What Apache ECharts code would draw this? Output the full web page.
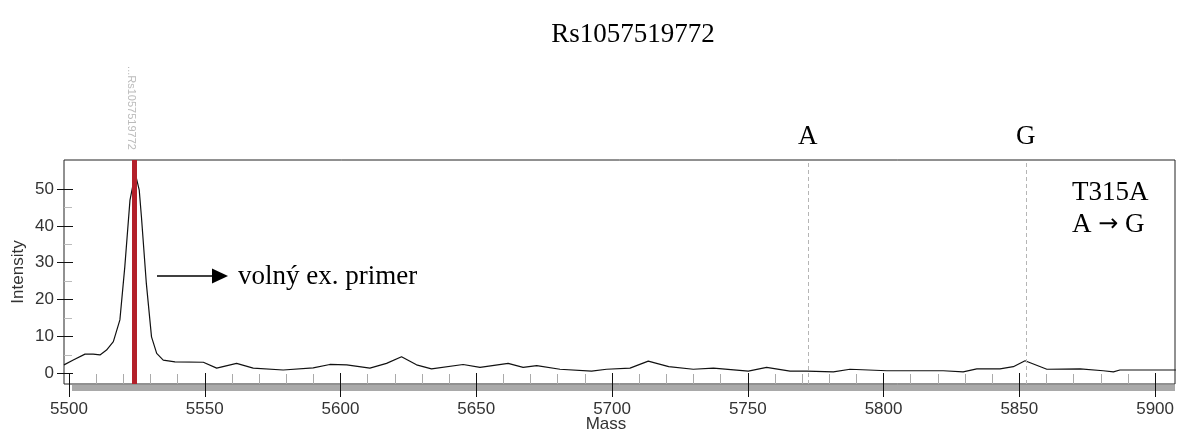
<!DOCTYPE html>
<html>
<head>
<meta charset="utf-8">
<script src="https://cdn.jsdelivr.net/npm/echarts@6/dist/echarts.min.js"></script>
<style>html,body{margin:0;padding:0;background:#fff}#c{width:1177px;height:436px}</style>
</head>
<body>
<div id="c"></div>
<script>
// ---- data ----
var titleText = 'Rs1057519772';
var mass = [5498.2, 5501.6, 5505.9, 5508.9, 5511.4, 5513.8, 5516.3, 5518.7, 5520.5, 5522.4, 5523.6, 5524.2, 5525.8, 5526.6, 5528.4, 5530.3, 5532.2, 5534.6, 5538.9, 5549.3, 5554.2, 5561.5, 5567.6, 5578.6, 5589.6, 5595.7, 5601.9, 5610.4, 5616.5, 5622, 5627.5, 5633, 5644.6, 5650.8, 5661.1, 5666.6, 5671.6, 5680.1, 5691.7, 5697.2, 5705.8, 5712.5, 5720, 5729, 5736.4, 5749.2, 5755.9, 5764.5, 5770.6, 5780.4, 5786.5, 5800, 5820.7, 5828, 5833, 5841.5, 5846.4, 5850.7, 5858.7, 5870.9, 5879.4, 5883.1, 5885.5, 5906];
var intensity = [2.3, 3.6, 5.2, 5.2, 5.0, 6.3, 8.6, 14.5, 28.9, 47, 51.5, 54.7, 49.7, 42.5, 24.4, 9.9, 5.4, 3.6, 3.1, 3.0, 1.4, 2.7, 1.4, 0.9, 1.5, 2.4, 2.3, 1.4, 2.7, 4.5, 2.3, 1.2, 2.4, 1.6, 2.7, 1.6, 2.1, 1.1, 0.6, 1.1, 1.4, 3.3, 1.8, 1.1, 1.4, 0.6, 1.6, 0.6, 0.6, 0.4, 1.1, 0.7, 0.7, 0.4, 1.2, 1.2, 1.8, 3.4, 1.1, 1.2, 0.7, 0.4, 0.9, 0.9];
var primerMass = 5524;
var primerLabel = '...Rs1057519772';
var alleleNames = ['A', 'G'];
var alleleMass = [5771, 5851];
var xTickMin = 5500, xTickMax = 5900, xTickStep = 50;
var yTickMin = 0, yTickMax = 50, yTickStep = 10;
var xName = 'Mass', yName = 'Intensity';
var noteTop = 'T315A';
var noteFrom = 'A', noteArrow = '\u2192', noteTo = 'G';
var arrowText = 'voln\u00fd ex. primer';

var SERIF = '"Liberation Serif","Times New Roman",serif';
var SANS = '"Liberation Sans",Arial,sans-serif';
var BIG = 27;

var chart = echarts.init(document.getElementById('c'), null, {renderer: 'canvas'});

var markData = [];
markData.push({xAxis: primerMass, lineStyle: {color: '#b3202a', width: 5, type: 'solid'}, label: {show: false}});
alleleNames.forEach(function (n, i) {
  markData.push({xAxis: alleleMass[i], name: n,
    lineStyle: {color: '#b5b5b5', width: 1, type: [4, 3]},
    label: {show: true, position: 'end', formatter: '{b}', fontFamily: SERIF, fontSize: BIG, color: '#000', distance: 10}});
});

function plain(v) { return String(v); }

var option = {
  animation: false,
  backgroundColor: '#fff',
  grid: [
    {left: 64, right: 2, top: 160, bottom: 52, show: true, borderColor: '#222', borderWidth: 1, backgroundColor: 'transparent'},
    {left: 69, right: 17.7, top: 160, bottom: 52},
    {left: 64, right: 2, top: 189, bottom: 62.7}
  ],
  xAxis: [
    {type: 'value', gridIndex: 0, min: 5498.2, max: 5905.7, show: false},
    {type: 'value', gridIndex: 1, position: 'bottom', min: xTickMin, max: xTickMax, interval: xTickStep, z: 5,
      axisLine: {show: false}, axisLabel: {show: false}, splitLine: {show: false},
      axisTick: {show: true, inside: true, length: 11, lineStyle: {color: '#111', width: 1}},
      minorTick: {show: true, splitNumber: 5, length: 10, lineStyle: {color: '#aaa', width: 1}}},
    {type: 'value', gridIndex: 1, position: 'bottom', offset: 0, min: xTickMin, max: xTickMax, interval: xTickStep, z: 5,
      axisLine: {show: false}, splitLine: {show: false},
      axisTick: {show: true, inside: false, length: 13, lineStyle: {color: '#111', width: 1}},
      axisLabel: {show: true, margin: 17, fontFamily: SANS, fontSize: 17, color: '#333', formatter: plain}},
    {type: 'value', gridIndex: 2, show: false}
  ],
  yAxis: [
    {type: 'value', gridIndex: 0, min: -2.9, max: 57.9, show: false},
    {type: 'value', gridIndex: 1, show: false},
    {type: 'value', gridIndex: 2, position: 'left', offset: 0, min: yTickMin, max: yTickMax, interval: yTickStep, z: 5,
      axisLine: {show: false}, splitLine: {show: false},
      axisTick: {show: true, inside: false, length: 7, lineStyle: {color: '#111'}},
      axisLabel: {show: true, margin: 10, fontFamily: SANS, fontSize: 17, color: '#333', formatter: plain}},
    {type: 'value', gridIndex: 2, position: 'left', offset: 0, min: yTickMin, max: yTickMax, interval: yTickStep, z: 5,
      axisLine: {show: false}, splitLine: {show: false}, axisLabel: {show: false},
      axisTick: {show: true, inside: true, length: 9, lineStyle: {color: '#111'}},
      minorTick: {show: true, splitNumber: 2, length: 8, lineStyle: {color: '#bbb'}}}
  ],
  series: [{
    type: 'line', xAxisIndex: 0, yAxisIndex: 0, showSymbol: false, symbol: 'none', smooth: false,
    lineStyle: {color: '#111', width: 1.2}, z: 3,
    data: mass.map(function (m, i) { return [m, intensity[i]]; }),
    markLine: {silent: true, symbol: 'none', animation: false, data: markData}
  }],
  graphic: [
    {type: 'rect', z: 1, shape: {x: 72, y: 385, width: 1103, height: 6}, style: {fill: '#a9a9a9'}},
    {type: 'text', x: 633, y: 35, style: {text: titleText, font: BIG + 'px ' + SERIF, fill: '#000', textAlign: 'center', textVerticalAlign: 'middle'}},
    {type: 'text', x: 131, y: 108, rotation: -Math.PI / 2, style: {text: primerLabel, font: '11px ' + SANS, fill: '#bbb', textAlign: 'center', textVerticalAlign: 'middle'}},
    {type: 'text', x: 18, y: 272, rotation: Math.PI / 2, style: {text: yName, font: '17px ' + SANS, fill: '#333', textAlign: 'center', textVerticalAlign: 'middle'}},
    {type: 'text', x: 606, y: 424, style: {text: xName, font: '17px ' + SANS, fill: '#333', textAlign: 'center', textVerticalAlign: 'middle'}},
    {type: 'line', shape: {x1: 157, y1: 276, x2: 214, y2: 276}, style: {stroke: '#000', lineWidth: 1.5}},
    {type: 'polygon', shape: {points: [[212, 268.5], [228, 276], [212, 283.5]]}, style: {fill: '#000'}},
    {type: 'text', x: 238, y: 277, style: {text: arrowText, font: BIG + 'px ' + SERIF, fill: '#000', textAlign: 'left', textVerticalAlign: 'middle'}},
    {type: 'text', x: 1072, y: 193, style: {text: noteTop, font: BIG + 'px ' + SERIF, fill: '#000', textAlign: 'left', textVerticalAlign: 'middle'}},
    {type: 'text', x: 1072, y: 225, style: {
      text: '{a|' + noteFrom + '\u00a0}{r|' + noteArrow + '}{a|\u00a0' + noteTo + '}',
      textAlign: 'left', textVerticalAlign: 'middle',
      rich: {a: {fontFamily: SERIF, fontSize: BIG, fill: '#000'}, r: {fontFamily: '"DejaVu Sans",sans-serif', fontSize: 24, fill: '#000'}}}}
  ]
};
chart.setOption(option);
</script>
</body>
</html>
